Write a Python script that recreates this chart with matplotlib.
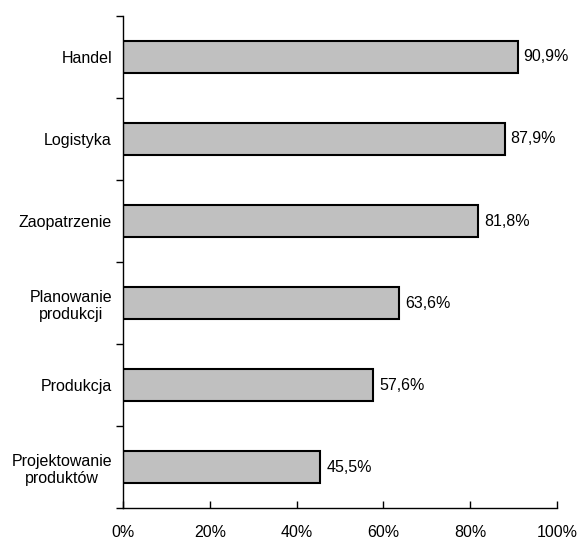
import matplotlib
matplotlib.use("Agg")
from matplotlib import pyplot as plt
import numpy as np

plt.rcParams['font.family'] = ['Liberation Sans', 'DejaVu Sans']

categories = ["Handel", "Logistyka", "Zaopatrzenie", "Planowanie\nprodukcji",
              "Produkcja", "Projektowanie\nproduktów"]
values = [90.9, 87.9, 81.8, 63.6, 57.6, 45.5]
xticks = [0, 20, 40, 60, 80, 100]

fs = 11.5
fig = plt.figure(figsize=(5.78, 5.42), dpi=100)
ax = fig.add_axes([0.2128, 0.0627, 0.7509, 0.9078])

y = np.arange(len(categories))
ax.barh(y, values, height=0.4, color='#c0c0c0', edgecolor='black', linewidth=1.5)
for yi, v in zip(y, values):
    ax.text(v + 1.4, yi, "{:.1f}%".format(v).replace('.', ','), va='center', ha='left', fontsize=fs)

ax.set_xlim(0, 100)
ax.set_ylim(len(categories) - 0.5, -0.5)
ax.set_xticks(xticks)
ax.set_xticklabels(["{}%".format(t) for t in xticks], fontsize=fs)
ax.set_yticks(y)
ax.set_yticklabels(categories, fontsize=fs, multialignment='center', linespacing=1.2)
ax.set_yticks(np.arange(-0.5, len(categories)), minor=True)
ax.tick_params(axis='y', which='major', length=0, pad=8)
ax.tick_params(axis='y', which='minor', length=5, direction='out', width=1)
ax.tick_params(axis='x', direction='in', length=5, width=1, pad=12)
for s in ['top', 'right']:
    ax.spines[s].set_visible(False)
ax.spines['left'].set_linewidth(1)
ax.spines['bottom'].set_linewidth(1)

fig.savefig("out.png", dpi=100)
